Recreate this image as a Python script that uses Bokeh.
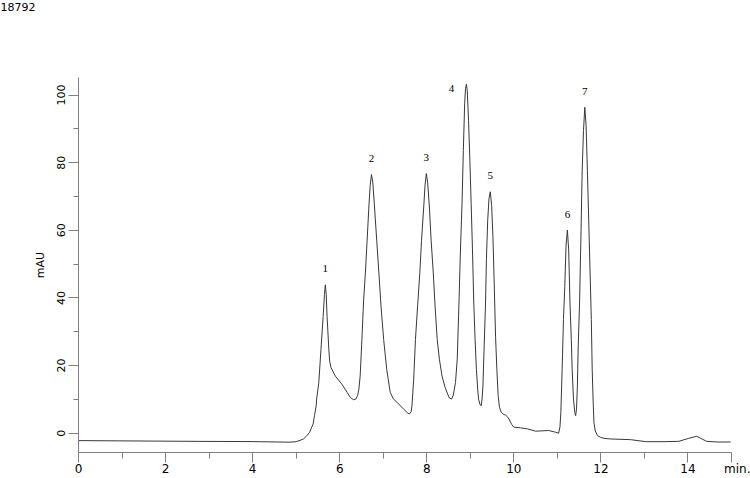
from bokeh.plotting import figure
from bokeh.models import Range1d, FixedTicker, LabelSet, ColumnDataSource
from bokeh.embed import file_html
from bokeh.resources import INLINE

sample_id = "18792"
x_unit = "min."
y_unit = "mAU"

time_min = [
    0.00, 0.95, 2.79, 3.94, 4.86, 5.00, 5.09, 5.17, 5.23, 5.31, 5.35, 5.39, 5.42, 5.46, 5.47,
    5.52, 5.57, 5.62, 5.65, 5.67, 5.69, 5.71, 5.75, 5.77, 5.80, 5.90, 6.05, 6.17, 6.25, 6.32,
    6.37, 6.41, 6.44, 6.47, 6.51, 6.55, 6.59, 6.63, 6.67, 6.70, 6.73, 6.76, 6.80, 6.85, 6.90,
    6.95, 7.01, 7.08, 7.16, 7.23, 7.32, 7.47, 7.56, 7.60, 7.64, 7.66, 7.70, 7.74, 7.79, 7.84,
    7.88, 7.93, 7.96, 7.99, 8.02, 8.06, 8.10, 8.15, 8.19, 8.24, 8.29, 8.35, 8.42, 8.48, 8.52,
    8.57, 8.61, 8.66, 8.70, 8.74, 8.77, 8.81, 8.84, 8.87, 8.89, 8.91, 8.93, 8.96, 8.99, 9.02,
    9.05, 9.08, 9.11, 9.14, 9.17, 9.19, 9.22, 9.25, 9.27, 9.29, 9.32, 9.35, 9.37, 9.40, 9.43,
    9.46, 9.49, 9.52, 9.55, 9.58, 9.61, 9.64, 9.67, 9.71, 9.77, 9.81, 9.85, 9.89, 9.95, 10.00,
    10.15, 10.31, 10.50, 10.65, 10.80, 10.96, 11.03, 11.06, 11.08, 11.11, 11.14, 11.17, 11.20, 11.23, 11.26,
    11.29, 11.32, 11.34, 11.37, 11.40, 11.42, 11.44, 11.46, 11.48, 11.51, 11.54, 11.57, 11.60, 11.63, 11.66,
    11.69, 11.72, 11.75, 11.78, 11.80, 11.82, 11.84, 11.87, 11.92, 11.99, 12.07, 12.22, 12.68, 13.03, 13.45,
    13.79, 14.02, 14.20, 14.29, 14.43, 14.68, 14.98,
]
signal_mau = [
    -2.18, -2.26, -2.41, -2.47, -2.65, -2.5, -2.1, -1.68, -0.94, 0.29, 1.56, 2.74, 5.18, 8.12, 10.09,
    15.0, 24.8, 34.6, 41.0, 43.9, 41.0, 34.6, 24.8, 21.3, 19.4, 16.9, 14.5, 12.1, 10.5, 9.9,
    10.1, 11.1, 13.0, 16.9, 27.7, 39.5, 47.4, 57.1, 66.9, 73.3, 76.5, 74.2, 66.9, 57.1, 47.4,
    37.4, 27.7, 18.9, 12.1, 10.2, 9.1, 7.1, 6.0, 5.7, 6.3, 8.1, 16.0, 27.7, 37.7, 47.4,
    57.1, 66.9, 73.3, 76.8, 74.2, 66.9, 57.1, 47.4, 37.7, 27.7, 21.9, 16.9, 13.6, 11.6, 10.4,
    10.1, 11.3, 15.0, 21.9, 38.5, 52.7, 67.9, 83.6, 97.4, 101.9, 103.2, 101.3, 92.4, 80.7, 67.9,
    54.2, 38.5, 27.7, 18.9, 13.0, 10.1, 8.6, 8.1, 10.1, 14.0, 26.3, 38.5, 51.3, 63.0, 69.5,
    71.4, 67.4, 58.1, 43.9, 28.7, 18.9, 11.1, 7.7, 6.2, 5.5, 5.4, 4.9, 4.2, 2.6, 1.8,
    1.6, 1.3, 0.6, 0.7, 0.8, 0.3, 0.0, 1.9, 6.2, 18.9, 33.6, 43.4, 55.7, 60.1, 54.2,
    38.5, 27.7, 18.9, 10.1, 6.2, 5.2, 7.1, 14.0, 26.3, 38.5, 57.1, 77.7, 89.5, 96.4, 90.9,
    77.7, 63.0, 48.3, 33.6, 18.9, 10.1, 3.2, 0.7, -0.7, -1.2, -1.5, -1.7, -1.9, -2.5, -2.5,
    -2.4, -1.5, -0.9, -1.5, -2.4, -2.6, -2.6,
]

peak_ids = ["1", "2", "3", "4", "5", "6", "7"]
peak_times = [5.67, 6.73, 7.99, 8.91, 9.46, 11.23, 11.63]
peak_heights = [43.9, 76.5, 76.8, 103.2, 71.4, 60.1, 96.4]

x_major = [0, 2, 4, 6, 8, 10, 12, 14, 15]
x_minor = [1, 3, 5, 7, 9, 11, 13]
y_major = [0, 20, 40, 60, 80, 100]
y_minor = [10, 30, 50, 70, 90]
x_start, x_end = 0, 15
y_start, y_end = -5.7, 105.2

FONT = "DejaVu Sans"
AXIS_GREY = "#7f7f7f"

p = figure(width=750, height=478, output_backend="svg", toolbar_location=None,
           x_range=Range1d(x_start, x_end), y_range=Range1d(y_start, y_end),
           min_border_left=78, min_border_right=19, min_border_top=0, min_border_bottom=0)

# sample id in the top-left corner; the empty lines below it make the top margin
p.title.text = sample_id + "\n" * 5 + "\u00a0"
p.title.align = "left"
p.title.vertical_align = "top"
p.title.offset = -78
p.title.standoff = 0
p.title.text_line_height = 0.96
p.title.text_font = FONT
p.title.text_font_size = "11px"
p.title.text_font_style = "normal"
p.title.text_color = "#000000"

p.outline_line_color = None
p.xgrid.visible = False
p.ygrid.visible = False
p.background_fill_color = "white"
p.border_fill_color = "white"

p.line(time_min, signal_mau, line_color="#383838", line_width=1)

# x axis (the unit sits under the last tick, shifted right with no-break spaces)
xa = p.xaxis[0]
xa.ticker = FixedTicker(ticks=x_major, minor_ticks=x_minor)
xa.major_label_overrides = {15: "\u00a0" * 4 + x_unit}
xa.axis_line_color = AXIS_GREY
xa.major_tick_line_color = AXIS_GREY
xa.minor_tick_line_color = AXIS_GREY
xa.major_tick_in = 0
xa.major_tick_out = 10
xa.minor_tick_in = 0
xa.minor_tick_out = 6
xa.major_label_standoff = -1
xa.major_label_text_font = FONT
xa.major_label_text_font_size = "12px"
xa.major_label_text_color = "#000000"

# y axis
ya = p.yaxis[0]
ya.ticker = FixedTicker(ticks=y_major, minor_ticks=y_minor)
ya.axis_line_color = AXIS_GREY
ya.major_tick_line_color = AXIS_GREY
ya.minor_tick_line_color = AXIS_GREY
ya.major_tick_in = 0
ya.major_tick_out = 10
ya.minor_tick_in = 0
ya.minor_tick_out = 5
ya.major_label_orientation = "vertical"
ya.major_label_standoff = 3
ya.major_label_text_font = FONT
ya.major_label_text_font_size = "11px"
ya.major_label_text_color = "#000000"
ya.axis_label = y_unit
ya.axis_label_standoff = 8
ya.axis_label_text_font = FONT
ya.axis_label_text_font_size = "11px"
ya.axis_label_text_font_style = "normal"
ya.axis_label_text_color = "#000000"

# peak numbers
label_dx = [0, 0, 0, -15, 0, 0, 0]
label_dy = [16, 16, 16, -4, 16, 16, 16]
src = ColumnDataSource(dict(x=peak_times, y=peak_heights, t=peak_ids, dx=label_dx, dy=label_dy))
p.add_layout(LabelSet(x="x", y="y", text="t", x_offset="dx", y_offset="dy", source=src,
                      text_align="center", text_baseline="middle",
                      text_font=FONT, text_font_size="11px", text_color="#000000"))

open("out.html", "w").write(file_html(p, INLINE))
